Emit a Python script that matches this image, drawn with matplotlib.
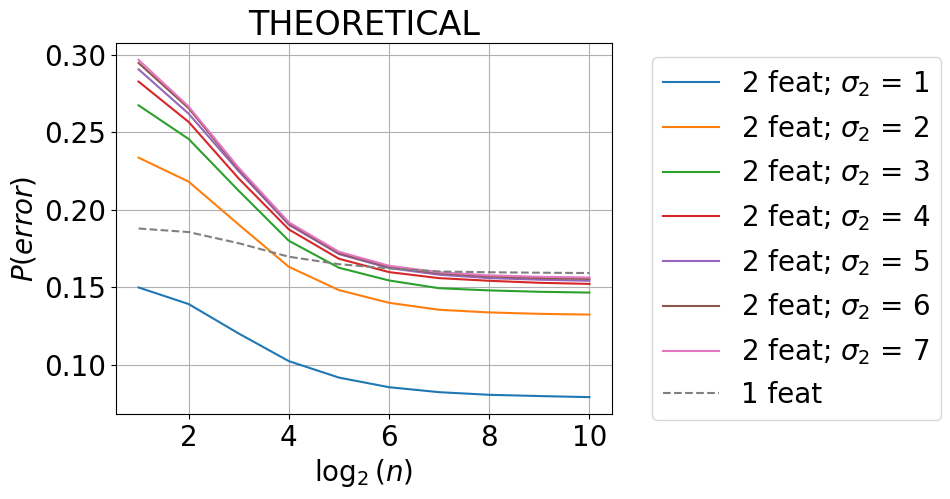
import matplotlib
matplotlib.use("Agg")
import matplotlib.pyplot as plt

x = [1, 2, 3, 4, 5, 6, 7, 8, 9, 10]
s1 = [0.1500, 0.1393, 0.1203, 0.1025, 0.0919, 0.0857, 0.0825, 0.0808, 0.0800, 0.0793]
s2 = [0.2337, 0.2182, 0.1905, 0.1633, 0.1483, 0.1401, 0.1356, 0.1339, 0.1330, 0.1325]
s3 = [0.2674, 0.2457, 0.2123, 0.1801, 0.1627, 0.1545, 0.1495, 0.1481, 0.1472, 0.1467]
s4 = [0.2827, 0.2567, 0.2202, 0.1874, 0.1685, 0.1599, 0.1560, 0.1543, 0.1530, 0.1523]
s5 = [0.2906, 0.2620, 0.2249, 0.1904, 0.1715, 0.1625, 0.1582, 0.1560, 0.1550, 0.1543]
s6 = [0.2947, 0.2655, 0.2262, 0.1913, 0.1721, 0.1633, 0.1592, 0.1571, 0.1561, 0.1555]
s7 = [0.2967, 0.2666, 0.2271, 0.1920, 0.1730, 0.1640, 0.1598, 0.1578, 0.1569, 0.1564]
one_feat = [0.1880, 0.1857, 0.1785, 0.1698, 0.1650, 0.1623, 0.1603, 0.1598, 0.1595, 0.1593]

series = [s1, s2, s3, s4, s5, s6, s7]
sigmas = [1, 2, 3, 4, 5, 6, 7]

fig = plt.figure(figsize=(9.5, 4.99), dpi=100)
ax = fig.add_axes([116/950, 1-414/499, (612-116)/950, (414-43)/499])

for s, sig in zip(series, sigmas):
    ax.plot(x, s, label=r'2 feat; $\sigma_2$ = %d' % sig)
ax.plot(x, one_feat, '--', color='gray', label='1 feat')

ax.grid(True)
ax.set_title('THEORETICAL', fontsize=24)
ax.set_xlabel(r'$\log_2(n)$', fontsize=20)
ax.set_ylabel(r'$P(error)$', fontsize=20)
ax.tick_params(labelsize=20)
ax.set_xticks([2, 4, 6, 8, 10])
ax.set_yticks([0.10, 0.15, 0.20, 0.25, 0.30])

fig.legend(loc='upper left', bbox_to_anchor=(652/950, 1-57/499),
           bbox_transform=fig.transFigure, borderaxespad=0, fontsize=20)

fig.savefig('out.png', dpi=100)
